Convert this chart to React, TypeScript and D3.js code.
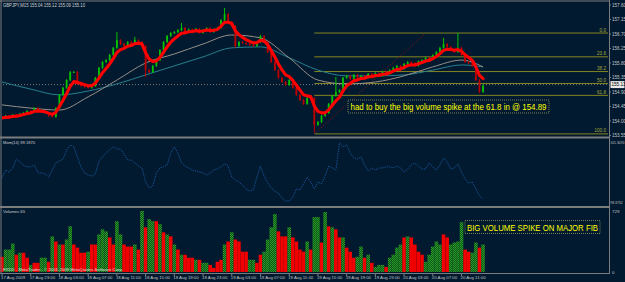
import React from "react";
import * as d3 from "d3";

const W = 625, H = 282;

// GBPJPY M15 closes (one entry per candle)
const CLOSES = [
  154.09, 154.16, 154.13, 154.19, 154.16, 154.22, 154.25, 154.31, 154.28, 154.40,
  154.34, 154.28, 154.25, 154.16, 154.13, 154.40, 154.81, 155.03, 155.27, 155.52,
  155.52, 155.15, 155.09, 155.06, 155.03, 155.09, 155.34, 155.65, 155.83, 155.89,
  156.05, 156.27, 156.51, 156.39, 156.33, 156.45, 156.39, 156.51, 156.45, 156.33,
  155.58, 155.52, 155.71, 155.89, 156.20, 156.45, 156.64, 156.73, 156.76, 156.82,
  156.89, 156.76, 156.84, 156.79, 156.86, 156.74, 156.82, 156.88, 156.77, 156.84,
  156.89, 157.13, 157.32, 157.07, 156.95, 156.33, 156.45, 156.42, 156.39, 156.36,
  156.33, 156.45, 156.64, 156.45, 156.14, 155.83, 155.58, 155.34, 155.21, 155.12,
  155.27, 155.03, 154.81, 154.65, 154.53, 154.71, 154.71, 153.88, 153.97, 154.16,
  154.25, 154.53, 154.78, 154.90, 154.96, 155.34, 155.40, 155.31, 155.43, 155.32,
  155.40, 155.35, 155.46, 155.38, 155.48, 155.41, 155.53, 155.47, 155.58, 155.65,
  155.71, 155.62, 155.77, 155.83, 155.80, 155.72, 155.85, 155.89, 155.96, 155.92,
  156.04, 156.14, 156.27, 156.39, 156.30, 156.20, 156.14, 156.27, 156.05, 155.83,
  155.80, 155.71, 155.27, 154.90, 155.10,
];
const FIRST_OPEN = 154.13;
const HIGH_SPIKES: [number, number][] = [[32, 156.76], [37, 156.61], [50, 157.04], [62, 157.51], [93, 155.37], [123, 156.58], [127, 156.73]];
const LOW_SPIKES: [number, number][] = [[40, 155.37], [65, 156.27], [87, 153.64], [133, 154.86]];

// slower moving averages, sampled every 8 candles
const MA_BARS = [0, 8, 16, 24, 32, 40, 48, 56, 64, 72, 80, 88, 96, 104, 112, 120, 128, 134];
const GRAY_MA = [154.50, 154.40, 154.34, 154.75, 155.27, 155.80, 156.08, 156.39, 156.67, 156.58, 155.96, 155.27, 155.15, 155.21, 155.40, 155.68, 155.89, 155.68];
const TEAL_MA = [155.21, 154.99, 154.81, 154.93, 155.15, 155.43, 155.71, 155.99, 156.27, 156.30, 155.96, 155.58, 155.40, 155.40, 155.43, 155.58, 155.74, 155.68];

const MOMENTUM = [
  99.58, 99.96, 99.86, 100.06, 100.49, 100.35, 100.20, 100.11, 100.11, 100.20,
  99.82, 99.82, 99.77, 99.62, 99.96, 100.30, 100.39, 100.49, 100.92, 101.16,
  101.07, 100.59, 100.11, 99.82, 99.72, 99.67, 99.77, 100.39, 100.59, 100.78,
  100.92, 101.07, 100.97, 100.97, 100.73, 100.44, 100.44, 100.30, 100.15, 100.06,
  99.38, 99.10, 99.19, 99.82, 100.06, 100.11, 100.20, 100.78, 101.07, 100.78,
  100.30, 100.15, 100.06, 99.96, 99.91, 99.86, 99.82, 99.72, 99.82, 99.96,
  100.01, 100.11, 100.25, 100.15, 99.62, 99.48, 99.38, 99.24, 99.05, 98.95,
  99.00, 99.62, 100.15, 99.67, 99.34, 99.10, 98.95, 98.85, 98.61, 98.47,
  98.47, 98.66, 99.05, 99.00, 99.29, 99.62, 99.38, 99.05, 99.38, 99.29,
  99.67, 100.15, 100.06, 99.96, 101.26, 101.07, 101.16, 100.78, 100.54, 100.49,
  100.59, 100.20, 99.91, 100.06, 99.96, 100.06, 100.06, 100.11, 100.11, 100.06,
  100.15, 100.06, 99.86, 100.01, 100.20, 100.30, 100.15, 100.01, 100.01, 100.30,
  100.11, 99.96, 100.20, 100.54, 100.35, 100.01, 100.06, 100.25, 99.86, 99.53,
  99.34, 99.38, 99.05, 98.71, 98.57,
];

const VOLUMES = [
  176, 259, 259, 329, 200, 223, 223, 165, 82, 106,
  106, 165, 165, 118, 412, 353, 318, 318, 376, 529,
  318, 282, 223, 223, 235, 318, 318, 435, 494, 470,
  400, 318, 588, 435, 318, 294, 294, 318, 259, 706,
  517, 612, 588, 588, 553, 459, 435, 412, 318, 259,
  200, 200, 165, 165, 141, 141, 106, 106, 82, 47,
  118, 141, 318, 353, 459, 376, 353, 235, 235, 141,
  141, 106, 200, 235, 376, 517, 670, 470, 412, 412,
  517, 400, 353, 259, 235, 353, 259, 635, 635, 341,
  694, 529, 517, 494, 400, 400, 282, 235, 165, 176,
  294, 165, 200, 106, 59, 82, 82, 59, 165, 200,
  282, 318, 400, 412, 400, 318, 235, 200, 118, 200,
  294, 353, 318, 435, 400, 318, 341, 353, 576, 259,
  235, 223, 341, 282, 318,
];
// g = up volume, r = down volume
const VOL_DIR =
  "rgggrgrrgr" + "rggrgrgrgg" + "rrrrgrrggg" + "rrggrrrgrg" + "rggrgrgrgr" +
  "grrrgrggrr" + "rrgrgrrrrg" + "grrggggrrr" + "grrrrgrggr" + "grgrrgrrrg" +
  "grgrgggrgg" + "ggrgrrrrgg" + "gggrrggggr" + "rggrg";

const PRICE_TICKS = [157.60, 157.15, 156.70, 156.25, 155.80, 155.35, 154.90, 154.45, 154.00, 153.55];
const TIME_LABELS = [
  "17 Aug 2009", "17 Aug 23:00", "18 Aug 03:00", "18 Aug 07:00", "18 Aug 11:00", "18 Aug 15:00",
  "18 Aug 19:00", "18 Aug 23:00", "19 Aug 03:00", "19 Aug 07:00", "19 Aug 11:00", "19 Aug 15:00",
  "19 Aug 19:00", "19 Aug 23:00", "20 Aug 03:00", "20 Aug 07:00", "20 Aug 11:00",
];
const FIB_LEVELS = [0, 23.6, 38.2, 50, 61.8, 100];
const FIB_LOW = { bar: 87, price: 153.60 };
const FIB_HIGH = { bar: 118, price: 156.73 };
const LAST_PRICE = 155.13;
const MOM_RANGE = [98.3732, 101.307];
const VOL_MAX = 729;

const BG = "#011a30";
const FONT = "Liberation Sans, Arial, sans-serif";
const AXIS_TXT = "#c4c4c4";

export default function App() {
  const n = CLOSES.length;
  const right = 609;
  const x = d3.scaleLinear().domain([0, n - 1]).range([2, 2 + (n - 1) * 3.59]);
  const step = x(1) - x(0);
  const yP = d3.scaleLinear().domain([153.55, 157.6]).range([135.5, 5]);
  const yM = d3.scaleLinear().domain(MOM_RANGE).range([203, 142]);
  const yV = d3.scaleLinear().domain([0, VOL_MAX]).range([272, 209]);

  const hi = new Map(HIGH_SPIKES);
  const lo = new Map(LOW_SPIKES);
  const candles = CLOSES.map((c, i) => {
    const o = i === 0 ? FIRST_OPEN : CLOSES[i - 1];
    const top = Math.max(o, c), bot = Math.min(o, c);
    return { i, o, c, h: hi.get(i) ?? top + 0.03, l: lo.get(i) ?? bot - 0.03 };
  });

  // fast EMA (thick red)
  const alpha = 2 / (5 + 1);
  const ema: number[] = [];
  CLOSES.forEach((c, i) => ema.push(i === 0 ? c : ema[i - 1] + alpha * (c - ema[i - 1])));

  const priceLine = d3.line<number>().x((_, i) => x(i)).y((d) => yP(d));
  const maLine = d3.line<number>().x((_, i) => x(MA_BARS[i])).y((d) => yP(d)).curve(d3.curveMonotoneX);
  const momLine = d3.line<number>().x((_, i) => x(i)).y((d) => yM(d));

  const fibX0 = x(FIB_LOW.bar);
  const fibPrice = (lv: number) => FIB_HIGH.price - (lv / 100) * (FIB_HIGH.price - FIB_LOW.price);

  return (
    <svg width={W} height={H} style={{ position: "absolute", left: 0, top: 0 }} fontFamily={FONT}>
      <defs>
        <pattern id="gh" width="2" height="2" patternUnits="userSpaceOnUse">
          <rect width="2" height="2" fill="#0b5a12" />
          <rect width="1" height="1" fill="#2c9a2c" />
          <rect x="1" y="1" width="1" height="1" fill="#2c9a2c" />
        </pattern>
        <clipPath id="mainClip"><rect x="2" y="2" width={right - 2} height="134" /></clipPath>
      </defs>
      <rect width={W} height={H} fill={BG} />

      {/* ---- main price panel ---- */}
      <g clipPath="url(#mainClip)">
        <line x1={0} x2={right} y1={yP(LAST_PRICE)} y2={yP(LAST_PRICE)} stroke="#7a7a7a" strokeDasharray="1,2" />
        {FIB_LEVELS.map((lv) => (
          <line key={lv} x1={fibX0} x2={right - 1} y1={yP(fibPrice(lv))} y2={yP(fibPrice(lv))} stroke="#85851f" />
        ))}
        <line x1={fibX0} y1={yP(FIB_LOW.price)} x2={x(FIB_HIGH.bar)} y2={yP(FIB_HIGH.price)}
          stroke="#a01010" strokeDasharray="1,2" />
        <path d={maLine(TEAL_MA) || ""} fill="none" stroke="#287f8e" strokeWidth={1} />
        <path d={maLine(GRAY_MA) || ""} fill="none" stroke="#978f88" strokeWidth={1} />
        {candles.map((d) => {
          const up = d.c >= d.o;
          const col = up ? "#00c400" : "#c00000";
          const yt = yP(Math.max(d.o, d.c)), yb = yP(Math.min(d.o, d.c));
          return (
            <g key={d.i}>
              <line x1={x(d.i)} x2={x(d.i)} y1={yP(d.h)} y2={yP(d.l)} stroke={col} strokeWidth={1} />
              <rect x={x(d.i) - 0.9} width={1.8} y={yt} height={Math.max(1, yb - yt)} fill={col} />
            </g>
          );
        })}
        <path d={priceLine(ema) || ""} fill="none" stroke="#ff0000" strokeWidth={3.1} strokeLinejoin="round" strokeLinecap="round" />
        {FIB_LEVELS.map((lv) => (
          <text key={lv} x={right - 3} y={yP(fibPrice(lv)) - 1.5} textAnchor="end" fontSize={4.6} fill="#a8a83a">
            {lv === 0 ? "0.0" : lv.toFixed(1)}
          </text>
        ))}
      </g>
      <text x={3} y={7} fontSize={4.6} fill="#d0d0d0" textLength={82} lengthAdjust="spacingAndGlyphs">
        GBPJPY,M15  155.04 155.12 155.09 155.10
      </text>
      <rect x={348} y={100} width={201} height={13} fill={BG} stroke="#9a9a60" strokeDasharray="1,1" strokeWidth={0.8} />
      <text x={350.5} y={110.2} fontSize={9.5} fill="#ffff00" textLength={196} lengthAdjust="spacingAndGlyphs">
        had to buy the big volume spike at the 61.8 in @ 154.89
      </text>

      {/* ---- momentum panel ---- */}
      <path d={momLine(MOMENTUM) || ""} fill="none" stroke="#1a5296" strokeWidth={0.9} strokeDasharray="1.4,0.9" />
      <text x={3} y={144} fontSize={4.4} fill="#d0d0d0" textLength={32} lengthAdjust="spacingAndGlyphs">Mom(14) 99.1870</text>

      {/* ---- volume panel ---- */}
      {VOLUMES.map((v, i) => (
        <rect key={i} x={x(i) - step / 2} width={step} y={yV(v)} height={272 - yV(v)}
          fill={VOL_DIR[i] === "g" ? "url(#gh)" : "#f00000"} />
      ))}
      <text x={3} y={213} fontSize={4.4} fill="#d0d0d0" textLength={22} lengthAdjust="spacingAndGlyphs">Volumes 65</text>
      <text x={3} y={271} fontSize={4.4} fill="#e0e0e0" textLength={120} lengthAdjust="spacingAndGlyphs">
        FXDD - MetaTrader - © 2001-2009 MetaQuotes Software Corp.
      </text>
      <rect x={465} y={220.5} width={135} height={13} fill={BG} stroke="#9a9a60" strokeDasharray="1,1" strokeWidth={0.8} />
      <text x={467} y={230.8} fontSize={9.2} fill="#ffff00" textLength={131} lengthAdjust="spacingAndGlyphs">
        BIG VOLUME SPIKE ON MAJOR FIB
      </text>

      {/* ---- frames ---- */}
      <rect x={0} y={0.5} width={right} height={1} fill="#7c7c7c" />
      <rect x={0.5} y={0} width={1} height={274} fill="#7c7c7c" />
      <rect x={0} y={136.5} width={right} height={2} fill="#7c7c7c" />
      <rect x={0} y={206} width={right} height={2} fill="#7c7c7c" />
      <rect x={0} y={273} width={right + 1} height={1} fill="#7c7c7c" />
      <rect x={right} y={0} width={1} height={274} fill="#7c7c7c" />

      {/* ---- right axis ---- */}
      {PRICE_TICKS.map((p) => (
        <g key={p}>
          <line x1={right} x2={right + 2} y1={yP(p)} y2={yP(p)} stroke="#7c7c7c" />
          <text x={612} y={yP(p)} dy="0.35em" fontSize={4.6} fill={AXIS_TXT}>{p.toFixed(2)}</text>
        </g>
      ))}
      <rect x={610.5} y={yP(LAST_PRICE) - 3.5} width={14} height={7} fill="#e8e8e8" />
      <text x={611.5} y={yP(LAST_PRICE)} dy="0.35em" fontSize={4.6} fill="#000">{LAST_PRICE.toFixed(2)}</text>
      <text x={610.3} y={yM(MOM_RANGE[1]) + 1} dy="0.35em" fontSize={3.4} fill={AXIS_TXT}>101.3070</text>
      <text x={610.3} y={yM(MOM_RANGE[0])} dy="0.35em" fontSize={3.4} fill={AXIS_TXT}>98.3732</text>
      <text x={612} y={yV(VOL_MAX) + 2} dy="0.35em" fontSize={4.4} fill={AXIS_TXT}>{VOL_MAX}</text>
      <text x={612} y={yV(0)} dy="0.35em" fontSize={4.4} fill={AXIS_TXT}>0</text>

      {/* ---- time axis ---- */}
      {TIME_LABELS.map((t, k) => (
        <g key={t}>
          <line x1={x(k * 8)} x2={x(k * 8)} y1={274} y2={276} stroke="#7c7c7c" />
          <text x={x(k * 8) - 1} y={279} fontSize={4.3} fill={AXIS_TXT}>{t}</text>
        </g>
      ))}
    </svg>
  );
}
